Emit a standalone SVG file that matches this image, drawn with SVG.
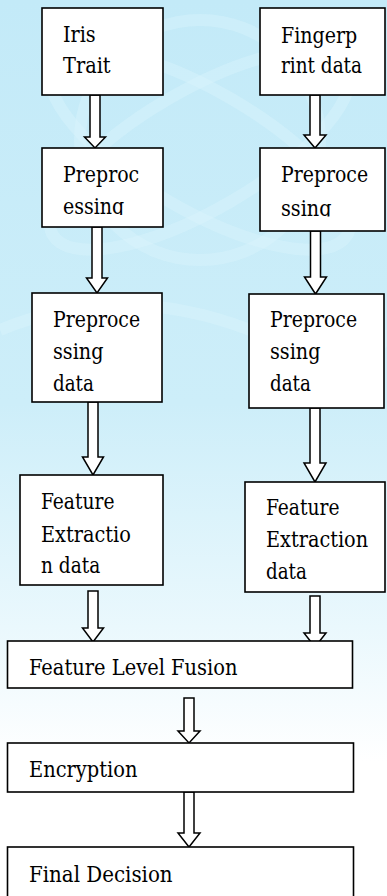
<svg xmlns="http://www.w3.org/2000/svg" width="387" height="896" viewBox="0 0 387 896">
<style>
.box{fill:#ffffff;stroke:#000000;stroke-width:1.6}
.arr{fill:#ffffff;stroke:#000000;stroke-width:1.5;stroke-linejoin:miter}
text{font-family:'DejaVu Serif Condensed','DejaVu Serif',serif;font-size:22px;fill:#000000}
.wm{fill:none;stroke:#dcf4fc;stroke-width:12;opacity:0.4}
</style>
<defs>
<linearGradient id="bg" x1="0" y1="0" x2="0" y2="1">
<stop offset="0" stop-color="#c3eaf8"/>
<stop offset="0.45" stop-color="#cdeef9"/>
<stop offset="0.7" stop-color="#eaf8fd"/>
<stop offset="0.85" stop-color="#ffffff"/>
<stop offset="1" stop-color="#ffffff"/>
</linearGradient>
<clipPath id="c3"><rect x="42" y="190" width="121" height="25"/></clipPath>
<clipPath id="c4"><rect x="260" y="190" width="125" height="26.5"/></clipPath>
</defs>
<rect x="0" y="0" width="387" height="896" fill="url(#bg)"/>
<g id="watermark">
<circle class="wm" cx="200" cy="140" r="120"/>
<ellipse class="wm" cx="200" cy="150" rx="170" ry="60" transform="rotate(30 200 150)"/>
<ellipse class="wm" cx="200" cy="150" rx="170" ry="60" transform="rotate(-30 200 150)"/>
<path class="wm" d="M0,330 Q120,280 250,330 T387,330"/>
</g>
<g id="connectors">
<path class="arr" d="M90,95 V137 H84.5 L95,148 L105.5,137 H100 V95 Z"/>
<path class="arr" d="M310,95 V135 H304 L315,148 L326,135 H320 V95 Z"/>
<path class="arr" d="M92,227 V278 H86.5 L97,293 L107.5,278 H102 V227 Z"/>
<path class="arr" d="M310.5,231 V277 H304.5 L315.5,294 L326.5,277 H320.5 V231 Z"/>
<path class="arr" d="M88,402 V457 H82.5 L93,475 L103.5,457 H98 V402 Z"/>
<path class="arr" d="M310,408 V463 H304 L315,482 L326,463 H320 V408 Z"/>
<path class="arr" d="M88,591 V628 H82.5 L93,642 L103.5,628 H98 V591 Z"/>
<path class="arr" d="M310,596 V633 H304 L315,647 L326,633 H320 V596 Z"/>
<path class="arr" d="M184,698 V731 H178 L189,743 L200,731 H194 V698 Z"/>
<path class="arr" d="M184,792 V833 H178 L189,847 L200,833 H194 V792 Z"/>
</g>
<g id="iris">
<rect class="box" x="42" y="8" width="121" height="87"/>
<text x="63" y="41.5" textLength="32.7" lengthAdjust="spacingAndGlyphs">Iris</text>
<text x="63" y="73.3" textLength="47.6" lengthAdjust="spacingAndGlyphs">Trait</text>
</g>
<g id="fingerprint">
<rect class="box" x="260" y="8" width="125" height="87"/>
<text x="281" y="42.5" textLength="76.2" lengthAdjust="spacingAndGlyphs">Fingerp</text>
<text x="281" y="73.3" textLength="81" lengthAdjust="spacingAndGlyphs">rint data</text>
</g>
<g id="preproc-left">
<rect class="box" x="42" y="148" width="121" height="79"/>
<text x="63" y="181.7" textLength="76.2" lengthAdjust="spacingAndGlyphs">Preproc</text>
<text x="63" y="214" clip-path="url(#c3)" textLength="61.3" lengthAdjust="spacingAndGlyphs">essing</text>
</g>
<g id="preproc-right">
<rect class="box" x="260" y="148" width="125" height="83"/>
<text x="281" y="182.3" textLength="87.1" lengthAdjust="spacingAndGlyphs">Preproce</text>
<text x="281" y="215.5" clip-path="url(#c4)" textLength="50.4" lengthAdjust="spacingAndGlyphs">ssing</text>
</g>
<g id="preproc-data-left">
<rect class="box" x="32" y="293" width="130" height="109"/>
<text x="53" y="327" textLength="87.1" lengthAdjust="spacingAndGlyphs">Preproce</text>
<text x="53" y="358.5" textLength="50.4" lengthAdjust="spacingAndGlyphs">ssing</text>
<text x="53" y="390.5" textLength="40.8" lengthAdjust="spacingAndGlyphs">data</text>
</g>
<g id="preproc-data-right">
<rect class="box" x="249" y="294" width="135" height="114"/>
<text x="270" y="327.3" textLength="87.1" lengthAdjust="spacingAndGlyphs">Preproce</text>
<text x="270" y="358.5" textLength="50.4" lengthAdjust="spacingAndGlyphs">ssing</text>
<text x="270" y="390.8" textLength="40.8" lengthAdjust="spacingAndGlyphs">data</text>
</g>
<g id="feature-left">
<rect class="box" x="20" y="475" width="143" height="110"/>
<text x="41" y="509" textLength="73.5" lengthAdjust="spacingAndGlyphs">Feature</text>
<text x="41" y="541.5" textLength="89.8" lengthAdjust="spacingAndGlyphs">Extractio</text>
<text x="41" y="573" textLength="59.2" lengthAdjust="spacingAndGlyphs">n data</text>
</g>
<g id="feature-right">
<rect class="box" x="245" y="482" width="140" height="110"/>
<text x="266" y="515" textLength="73.5" lengthAdjust="spacingAndGlyphs">Feature</text>
<text x="266" y="547" textLength="102.1" lengthAdjust="spacingAndGlyphs">Extraction</text>
<text x="266" y="579" textLength="40.8" lengthAdjust="spacingAndGlyphs">data</text>
</g>
<g id="fusion">
<rect class="box" x="7.5" y="641" width="345" height="47"/>
<text x="29" y="675" textLength="208.5" lengthAdjust="spacingAndGlyphs">Feature Level Fusion</text>
</g>
<g id="encryption">
<rect class="box" x="7.5" y="743" width="346" height="49"/>
<text x="29" y="777.3" textLength="108.5" lengthAdjust="spacingAndGlyphs">Encryption</text>
</g>
<g id="final">
<rect class="box" x="7.5" y="847" width="346" height="60"/>
<text x="29" y="881.7" textLength="143.6" lengthAdjust="spacingAndGlyphs">Final Decision</text>
</g>
</svg>
